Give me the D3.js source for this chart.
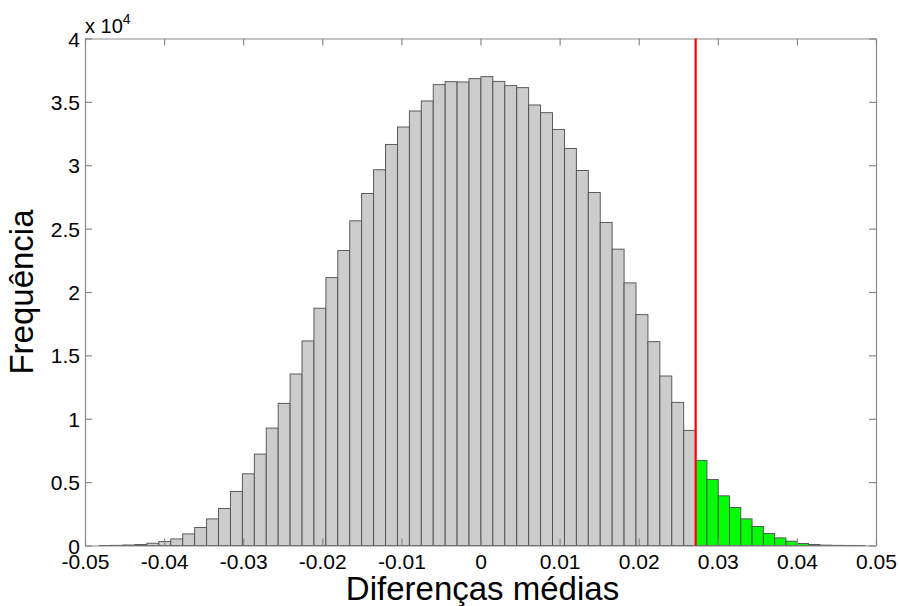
<!DOCTYPE html>
<html>
<head>
<meta charset="utf-8">
<script src="https://cdn.jsdelivr.net/npm/d3@7"></script>
<style>
  html, body { margin: 0; padding: 0; background: #fff; }
  svg { display: block; font-family: Arial, "Liberation Sans", Helvetica, sans-serif; }
</style>
</head>
<body>
<svg id="chart" width="899" height="606"></svg>
<script>
// Permutation distribution of mean differences: counts per bin.
// Bins up to the observed difference (grey)
const greyRange = [-0.0482, 0.0272];
const greyCounts = [
  5, 15, 40, 80, 180, 316, 520, 916, 1422, 2101,
  2923, 4265, 5656, 7212, 9265, 11216, 13531, 16137, 18720, 21137,
  23270, 25616, 27773, 29645, 31643, 33017, 34281, 35071, 36359, 36596,
  36572, 36832, 36990, 36619, 36280, 36122, 34755, 34147, 32828, 31327,
  29589, 27852, 25482, 23381, 20719, 18215, 16082, 13373, 11295, 9084
];
// Bins beyond the observed difference (green)
const greenRange = [0.0272, 0.0486];
const greenCounts = [6714, 5213, 3918, 3002, 2101, 1501, 948, 600, 340, 158, 80, 30, 15, 8, 3];
// Observed mean difference
const observed = 0.0272;

const xTicks = [-0.05, -0.04, -0.03, -0.02, -0.01, 0, 0.01, 0.02, 0.03, 0.04, 0.05];
const xTickLabels = ["-0.05", "-0.04", "-0.03", "-0.02", "-0.01", "0", "0.01", "0.02", "0.03", "0.04", "0.05"];
const yTicks = [0, 5000, 10000, 15000, 20000, 25000, 30000, 35000, 40000];
const yTickLabels = ["0", "0.5", "1", "1.5", "2", "2.5", "3", "3.5", "4"];

const xTitle = "Diferenças médias";
const yTitle = "Frequência";

const svg = d3.select("#chart");
const L = 85, R = 876, T = 38.5, B = 545.5;

const x = d3.scaleLinear().domain([-0.05, 0.05]).range([L, R]);
const y = d3.scaleLinear().domain([0, 40000]).range([B, T]);

function toBins(range, counts) {
  const w = (range[1] - range[0]) / counts.length;
  return counts.map((c, i) => ({ x0: range[0] + i * w, x1: range[0] + (i + 1) * w, n: c }));
}

const axisColor = "#8a8a8a";

// Bars
function drawBars(bins, fill, cls) {
  svg.append("g").attr("class", cls)
    .selectAll("rect").data(bins).enter().append("rect")
    .attr("x", d => x(d.x0))
    .attr("width", d => x(d.x1) - x(d.x0))
    .attr("y", d => y(d.n))
    .attr("height", d => y(0) - y(d.n))
    .attr("fill", fill)
    .attr("stroke", "#4d4d4d")
    .attr("stroke-width", 0.9);
}
drawBars(toBins(greyRange, greyCounts), "#cccccc", "grey-bars");
drawBars(toBins(greenRange, greenCounts), "#00ff00", "green-bars");

// Axes: box with inward ticks on all four sides
const tickLen = 7;
const axBottom = svg.append("g").attr("transform", `translate(0,${B})`)
  .call(d3.axisBottom(x).tickValues(xTicks).tickSizeInner(-tickLen).tickSizeOuter(0)
        .tickFormat((d, i) => xTickLabels[i]).tickPadding(12));
const axTop = svg.append("g").attr("transform", `translate(0,${T})`)
  .call(d3.axisTop(x).tickValues(xTicks).tickSizeInner(-tickLen).tickSizeOuter(0).tickFormat(""));
const axLeft = svg.append("g").attr("transform", `translate(${L},0)`)
  .call(d3.axisLeft(y).tickValues(yTicks).tickSizeInner(-tickLen).tickSizeOuter(0)
        .tickFormat((d, i) => yTickLabels[i]).tickPadding(12));
const axRight = svg.append("g").attr("transform", `translate(${R},0)`)
  .call(d3.axisRight(y).tickValues(yTicks).tickSizeInner(-tickLen).tickSizeOuter(0).tickFormat(""));

[axBottom, axTop, axLeft, axRight].forEach(g => {
  g.select(".domain").attr("stroke", axisColor).attr("stroke-width", 1.2);
  g.selectAll(".tick line").attr("stroke", axisColor).attr("stroke-width", 1.2);
  g.selectAll("text").attr("fill", "#000").style("font-size", "21px")
    .style("font-family", "Arial, 'Liberation Sans', sans-serif");
});
axBottom.selectAll("text").attr("dy", null).attr("y", 23);
axLeft.selectAll("text").attr("dy", "0.36em").attr("x", -5);

// Observed value marker
svg.append("line")
  .attr("x1", x(observed)).attr("x2", x(observed))
  .attr("y1", T).attr("y2", B)
  .attr("stroke", "#ff0000").attr("stroke-width", 2.2);

// Exponent label
const expo = svg.append("text").attr("x", L).attr("y", 33)
  .style("font-size", "20px").attr("fill", "#000");
expo.append("tspan").text("x 10");
expo.append("tspan").attr("dy", -9).style("font-size", "14px").text("4");

// Axis titles
svg.append("text")
  .attr("x", (L + R) / 2 + 2).attr("y", 600)
  .attr("text-anchor", "middle")
  .style("font-size", "33px").attr("fill", "#000")
  .text(xTitle);

svg.append("text")
  .attr("transform", `translate(33,${(T + B) / 2}) rotate(-90)`)
  .attr("text-anchor", "middle")
  .style("font-size", "33px").attr("fill", "#000")
  .text(yTitle);
</script>
</body>
</html>
